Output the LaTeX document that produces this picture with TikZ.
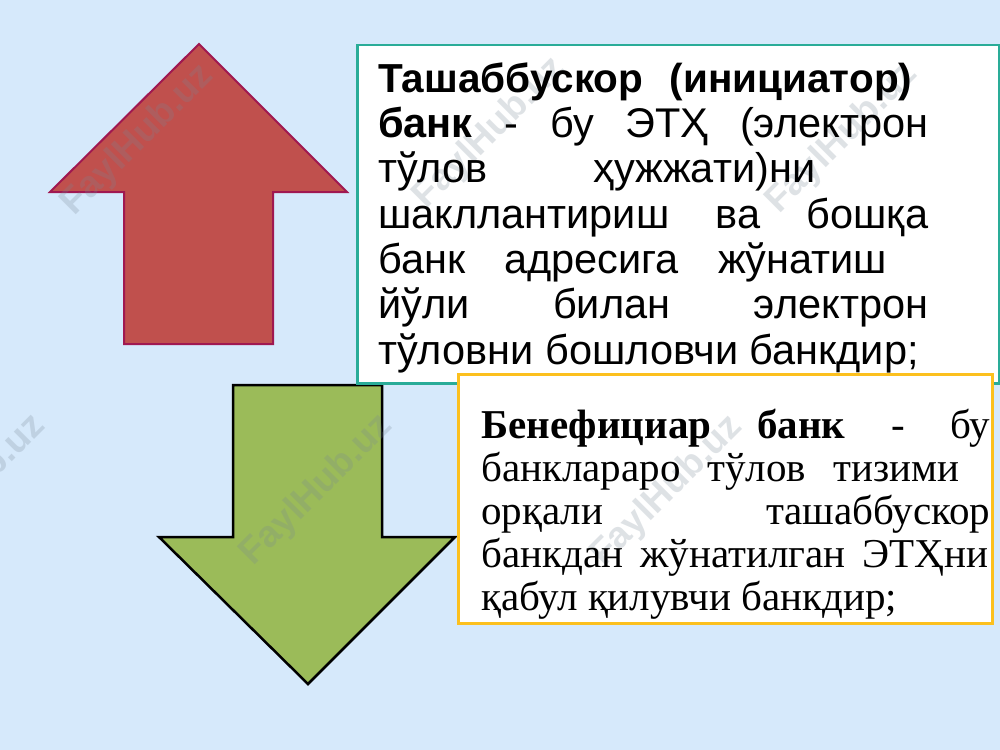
\documentclass[tikz,border=0pt]{standalone}
\usepackage{fontspec}
\setmainfont{Liberation Serif}
\newfontfamily\arialf{Liberation Sans}
\definecolor{bgblue}{RGB}{214,233,251}
\definecolor{redfill}{RGB}{192,80,77}
\definecolor{redline}{RGB}{160,24,80}
\definecolor{greenfill}{RGB}{155,187,89}
\definecolor{tealline}{RGB}{42,172,152}
\definecolor{goldline}{RGB}{252,192,30}
\definecolor{wmgray}{RGB}{120,135,150}
\tikzset{
  redarrow/.style={fill=redfill, draw=redline, line width=2bp, line join=miter},
  greenarrow/.style={fill=greenfill, draw=black, line width=2.5bp, line join=miter},
  boxone/.style={draw=tealline, fill=white, line width=2.5bp, inner sep=0pt},
  boxtwo/.style={draw=goldline, fill=white, line width=3bp, inner sep=0pt},
  txtone/.style={inner sep=0pt, anchor=north west, align=left, font=\arialf\fontsize{41.5bp}{45.3bp}\selectfont},
  txttwo/.style={inner sep=0pt, anchor=north west, align=left, font=\fontsize{41bp}{43bp}\selectfont},
  wm/.style={text=wmgray, opacity=0.24, font=\arialf\bfseries\fontsize{37bp}{40bp}\selectfont, rotate=45, inner sep=0pt}
}
\newcommand{\jl}[2]{\makebox[#1bp][s]{#2}}
\begin{document}
\begin{tikzpicture}[x=1bp,y=-1bp]
\useasboundingbox (0,0) rectangle (1000,750);
\fill[bgblue] (0,0) rectangle (1000,750);
% up arrow
\draw[redarrow] (199,44) -- (347,192) -- (273,192) -- (273,344) -- (124,344) -- (124,192) -- (50,192) -- cycle;
% down arrow
\draw[greenarrow] (233,385) -- (382,385) -- (382,537) -- (455,537) -- (308,684) -- (159,537) -- (233,537) -- cycle;
% boxes
\node[boxone, minimum width=642bp, minimum height=338bp, anchor=north west] (b1) at (356,44) {};
\node[boxtwo, minimum width=534bp, minimum height=249bp, anchor=north west] (b2) at (457,373) {};
% watermarks
\node[wm] (w1) at (138,140) {FaylHub.uz};
\node[wm] (w2) at (490,133) {FaylHub.uz};
\node[wm] (w3) at (842,138) {FaylHub.uz};
\node[wm] (w4) at (-30,490) {FaylHub.uz};
\node[wm] (w5) at (317,490) {FaylHub.uz};
\node[wm] (w6) at (667,491) {FaylHub.uz};
% texts
\node[txtone] (t1) at (378,60.3) {%
\strut\jl{534}{\fontsize{40.5bp}{45.3bp}\selectfont\bfseries Ташаббускор \ (инициатор)}\\
\strut\jl{550}{\textbf{банк} - бу ЭТҲ (электрон}\\
\strut\jl{437}{тўлов ҳужжати)ни}\\
\strut\jl{550}{шакллантириш ва бошқа}\\
\strut\jl{509}{банк адресига жўнатиш}\\
\strut\jl{550}{йўли билан электрон}\\
\strut тўловни бошловчи банкдир;};
\node[txttwo] (t2) at (481,407.9) {%
\strut\jl{509}{\textbf{Бенефициар банк} - бу}\\
\strut\jl{478}{банклараро тўлов тизими}\\
\strut\jl{509}{орқали ташаббускор}\\
\strut\jl{507}{банкдан жўнатилган ЭТҲни}\\
\strut қабул қилувчи банкдир;};
\end{tikzpicture}
\end{document}
